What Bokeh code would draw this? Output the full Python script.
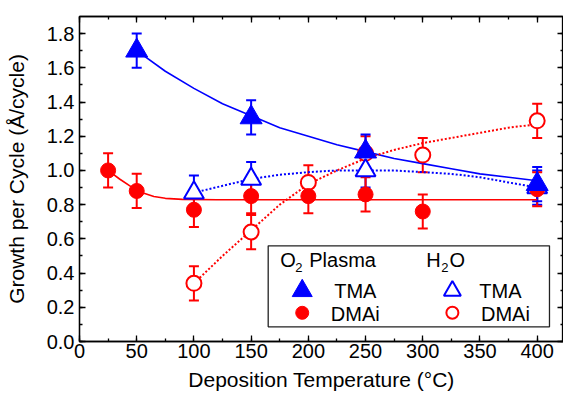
from bokeh.plotting import figure
from bokeh.models import (ColumnDataSource, Whisker, TeeHead, LinearAxis, Range1d,
                          SingleIntervalTicker, PrintfTickFormatter, BoxAnnotation)
from bokeh.core.properties import value
from bokeh.embed import file_html
from bokeh.resources import INLINE

# ---------------- data ----------------
# O2 plasma, TMA (filled triangles)
pl_tma_T = [50, 150, 250, 400]
pl_tma_g = [1.70, 1.31, 1.11, 0.92]
pl_tma_err = [0.10, 0.10, 0.10, 0.10]
# O2 plasma, DMAi (filled circles)
pl_dmai_T = [25, 50, 100, 150, 200, 250, 300, 400]
pl_dmai_g = [1.00, 0.88, 0.77, 0.85, 0.85, 0.86, 0.76, 0.89]
pl_dmai_err = [0.10, 0.10, 0.10, 0.10, 0.10, 0.10, 0.10, 0.10]
# H2O, TMA (open triangles)
w_tma_T = [100, 150, 250, 400]
w_tma_g = [0.87, 0.95, 1.00, 0.90]
w_tma_err = [0.10, 0.10, 0.10, 0.10]
# H2O, DMAi (open circles)
w_dmai_T = [100, 150, 200, 250, 300, 400]
w_dmai_g = [0.34, 0.64, 0.93, 1.10, 1.09, 1.29]
w_dmai_err = [0.10, 0.10, 0.10, 0.10, 0.10, 0.10]

# guide curves
fit_pl_tma_T = [50, 75, 100, 125, 150, 175, 200, 225, 250, 275, 300, 325, 350, 375, 400]
fit_pl_tma_g = [1.70, 1.58, 1.48, 1.39, 1.32, 1.25, 1.20, 1.15, 1.11, 1.07, 1.04, 1.01, 0.98, 0.96, 0.94]
fit_pl_dmai_T = [25, 35, 45, 55, 65, 75, 90, 120, 200, 300, 400]
fit_pl_dmai_g = [1.00, 0.95, 0.905, 0.87, 0.848, 0.837, 0.831, 0.829, 0.829, 0.829, 0.829]
fit_w_tma_T = [100, 125, 150, 175, 200, 225, 250, 275, 300, 325, 350, 375, 400]
fit_w_tma_g = [0.87, 0.91, 0.95, 0.975, 0.99, 1.00, 1.00, 1.00, 0.99, 0.98, 0.96, 0.93, 0.90]
fit_w_dmai_T = [100, 125, 150, 175, 200, 225, 250, 275, 300, 325, 350, 375, 400]
fit_w_dmai_g = [0.34, 0.50, 0.65, 0.80, 0.92, 1.00, 1.07, 1.12, 1.16, 1.19, 1.22, 1.25, 1.27]

x_label = "Deposition Temperature (°C)"
y_label = "Growth per Cycle (Å/cycle)"

BLUE = "#0000ff"
RED = "#ff0000"
FONT = "Liberation Sans"

XMAX, YMAX = 423, 1.9

p = figure(width=563, height=398, output_backend="svg", toolbar_location=None,
           x_range=Range1d(0, XMAX), y_range=Range1d(0, YMAX),
           min_border_left=79, min_border_right=0, min_border_top=16, min_border_bottom=57)
p.grid.visible = False
p.outline_line_color = "black"
p.outline_line_width = 1.3
p.background_fill_color = "white"
p.border_fill_color = "white"

xt = SingleIntervalTicker(interval=50, num_minor_ticks=2)
yt = SingleIntervalTicker(interval=0.2, num_minor_ticks=2)

def style_axis(ax, show_labels=True):
    ax.major_tick_in = 6
    ax.major_tick_out = 0
    ax.minor_tick_in = 3
    ax.minor_tick_out = 0
    ax.axis_line_width = 1.3
    ax.axis_line_color = "black"
    ax.major_tick_line_color = "black"
    ax.minor_tick_line_color = "black"
    ax.major_tick_line_width = 1.3
    ax.minor_tick_line_width = 1.3
    ax.major_label_text_font = FONT
    ax.major_label_text_font_size = "20px" if show_labels else "0px"
    ax.major_label_text_color = "black" if show_labels else None
    ax.axis_label_text_font = FONT
    ax.axis_label_text_font_size = "21px"
    ax.axis_label_text_color = "black"
    ax.axis_label_text_font_style = "normal"

p.xaxis.ticker = xt
p.yaxis.ticker = yt
p.yaxis.formatter = PrintfTickFormatter(format="%.1f")
style_axis(p.xaxis[0])
style_axis(p.yaxis[0])
p.xaxis.axis_label = x_label
p.yaxis.axis_label = y_label
p.xaxis.major_label_standoff = 2
p.yaxis.major_label_standoff = 5
p.xaxis.axis_label_standoff = 7
p.yaxis.axis_label_standoff = 16

top = LinearAxis(ticker=xt, major_label_standoff=0)
style_axis(top, False)
p.add_layout(top, "above")
right = LinearAxis(ticker=yt, major_label_standoff=0)
style_axis(right, False)
p.add_layout(right, "right")

# guide curves
p.line(fit_pl_tma_T, fit_pl_tma_g, line_color=BLUE, line_width=1.6)
p.line(fit_pl_dmai_T, fit_pl_dmai_g, line_color=RED, line_width=1.6)
p.line(fit_w_tma_T, fit_w_tma_g, line_color=BLUE, line_width=2, line_dash="2 2")
p.line(fit_w_dmai_T, fit_w_dmai_g, line_color=RED, line_width=2, line_dash="2 2")

def add_series(T, g, err, color, marker, size, filled):
    src = ColumnDataSource(dict(x=T, y=g,
                                lo=[a - b for a, b in zip(g, err)],
                                hi=[a + b for a, b in zip(g, err)]))
    w = Whisker(base="x", lower="lo", upper="hi", source=src, dimension="height",
                line_color=color, line_width=2, level="underlay",
                upper_head=TeeHead(size=10, line_color=color, line_width=2),
                lower_head=TeeHead(size=10, line_color=color, line_width=2))
    p.add_layout(w)
    p.scatter("x", "y", source=src, marker=marker, size=size,
              fill_color=color if filled else "white", line_color=color,
              line_width=1 if filled else 2)

add_series(w_dmai_T, w_dmai_g, w_dmai_err, RED, "circle", 15, False)
add_series(w_tma_T, w_tma_g, w_tma_err, BLUE, "triangle", 20, False)
add_series(pl_dmai_T, pl_dmai_g, pl_dmai_err, RED, "circle", 15, True)
add_series(pl_tma_T, pl_tma_g, pl_tma_err, BLUE, "triangle", 22, True)

# ---------------- legend (placed by pixel position in the frame) ----------------
FL, FT, FR, FB = 79.5, 15.7, 563.0, 340.7
def dx(px):
    return (px - FL) / (FR - FL) * XMAX
def dy(py):
    return (FB - py) / (FB - FT) * YMAX

p.add_layout(BoxAnnotation(left=dx(268), right=dx(549), top=dy(245), bottom=dy(326),
                           fill_color="white", fill_alpha=1, line_color="#222222",
                           line_alpha=1, line_width=1.3, level="annotation"))

def txt(px, py, s, size="20px", align="left"):
    p.text(x=[dx(px)], y=[dy(py)], text=[s], text_font=value(FONT),
           text_font_size=size, text_align=align, text_baseline="middle",
           text_color="black", level="overlay")

txt(280, 259, "O", "20px")
txt(295, 267, "2", "13px")
txt(309, 259, "Plasma", "20px")
txt(426, 259, "H", "20px")
txt(441, 267, "2", "13px")
txt(449, 259, "O", "20px")
txt(355, 290, "TMA", "20px", "center")
txt(355, 313, "DMAi", "20px", "center")
txt(500, 290, "TMA", "20px", "center")
txt(505, 313, "DMAi", "20px", "center")

p.scatter([dx(302)], [dy(290)], marker="triangle", size=20, fill_color=BLUE,
          line_color=BLUE, level="overlay")
p.scatter([dx(302)], [dy(312)], marker="circle", size=13, fill_color=RED,
          line_color=RED, level="overlay")
p.scatter([dx(452)], [dy(290)], marker="triangle", size=17, fill_color="white",
          line_color=BLUE, line_width=2, level="overlay")
p.scatter([dx(452)], [dy(312)], marker="circle", size=12, fill_color="white",
          line_color=RED, line_width=2, level="overlay")

open("out.html", "w").write(file_html(p, INLINE))
